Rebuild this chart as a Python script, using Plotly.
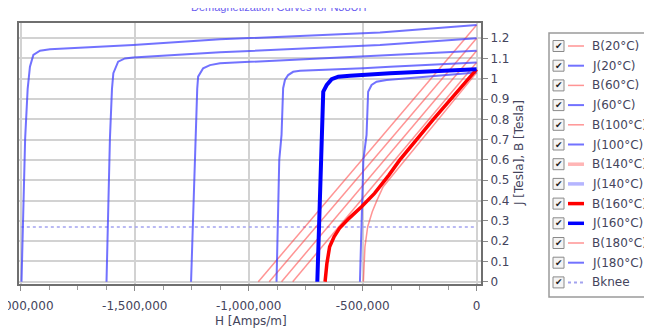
import plotly.graph_objects as go

# ---------------- data ----------------
H_J20 = [-1997000, -1990000, -1981000, -1970000, -1960000, -1945000, -1916000, -1872000, -1507000, -1126000, -424000, 0]
J_J20 = [0, 0.35, 0.706, 0.95, 1.059, 1.117, 1.138, 1.145, 1.166, 1.194, 1.227, 1.265]

H_J60 = [-1624000, -1616000, -1609000, -1600000, -1594000, -1573000, -1543000, -1507000, -1126000, -424000, 0]
J_J60 = [0, 0.35, 0.706, 0.95, 1.027, 1.084, 1.100, 1.105, 1.130, 1.166, 1.199]

H_J100 = [-1253000, -1244000, -1235000, -1226000, -1222000, -1200000, -1170000, -1126000, -995000, -512000, 0]
J_J100 = [0, 0.35, 0.706, 0.95, 1.01, 1.051, 1.067, 1.076, 1.083, 1.108, 1.138]

H_J140 = [-878000, -872000, -866000, -856000, -849000, -841000, -827000, -805000, -775000, -498000, -380000, 0]
J_J140 = [0, 0.3, 0.6, 0.723, 0.953, 0.994, 1.018, 1.034, 1.039, 1.051, 1.059, 1.08]

H_J160 = [-699000, -690000, -680000, -673000, -658000, -636000, -607000, -556000, -380000, 0]
J_J160 = [0, 0.3, 0.6, 0.936, 0.969, 0.998, 1.01, 1.015, 1.027, 1.046]

H_J180 = [-512000, -505000, -497000, -483000, -476000, -461000, -439000, -395000, 0]
J_J180 = [0, 0.3, 0.6, 0.723, 0.936, 0.969, 0.985, 0.994, 1.03]

H_B20 = [-958000, 0]
B_B20 = [0, 1.265]
H_B60 = [-910000, 0]
B_B60 = [0, 1.199]
H_B100 = [-856000, 0]
B_B100 = [0, 1.138]
H_B140 = [-807000, 0]
B_B140 = [0, 1.08]

H_B160 = [-665000, -657000, -645000, -625000, -602000, -560000, -505000, -448000, -385000, -337000, -190000, 0]
B_B160 = [0, 0.09, 0.172, 0.222, 0.263, 0.312, 0.369, 0.435, 0.525, 0.6, 0.8, 1.046]

H_B180 = [-497000, -495000, -490000, -478000, -458000, -437000, -410000, 0]
B_B180 = [0, 0.09, 0.172, 0.271, 0.345, 0.402, 0.468, 1.03]

H_BKNEE = [-2000000, 0]
B_BKNEE = [0.27, 0.27]

X_TICKS = [-2000000, -1500000, -1000000, -500000, 0]
X_TICK_LABELS = ["-2,000,000", "-1,500,000", "-1,000,000", "-500,000", "0"]
Y_TICKS = [0, 0.1, 0.2, 0.3, 0.4, 0.5, 0.6, 0.7, 0.8, 0.9, 1.0, 1.1, 1.2]
Y_TICK_LABELS = ["0", "0.1", "0.2", "0.3", "0.4", "0.5", "0.6", "0.7", "0.8", "0.9", "1", "1.1", "1.2"]

TITLE = "Demagnetization Curves for N38UH"
X_TITLE = "H [Amps/m]"
Y_TITLE = "J [Tesla], B [Tesla]"

# ---------------- styles ----------------
B_THIN = "rgba(255,60,60,0.55)"
J_THIN = "rgba(60,60,255,0.72)"
B_THICK = "#ff0000"
J_THICK = "#0000ff"
KNEE = "#a3a3ef"
TXT = "#44445c"
FONT = "DejaVu Sans"

series = [
    ("B(20°C)", H_B20, B_B20, B_THIN, 1.5, "solid"),
    ("J(20°C)", H_J20, J_J20, J_THIN, 2, "solid"),
    ("B(60°C)", H_B60, B_B60, B_THIN, 1.5, "solid"),
    ("J(60°C)", H_J60, J_J60, J_THIN, 2, "solid"),
    ("B(100°C)", H_B100, B_B100, B_THIN, 1.5, "solid"),
    ("J(100°C)", H_J100, J_J100, J_THIN, 2, "solid"),
    ("B(140°C)", H_B140, B_B140, B_THIN, 1.5, "solid"),
    ("J(140°C)", H_J140, J_J140, J_THIN, 2, "solid"),
    ("B(160°C)", H_B160, B_B160, B_THICK, 3.5, "solid"),
    ("J(160°C)", H_J160, J_J160, J_THICK, 4, "solid"),
    ("B(180°C)", H_B180, B_B180, B_THIN, 1.5, "solid"),
    ("J(180°C)", H_J180, J_J180, J_THIN, 2, "solid"),
    ("Bknee", H_BKNEE, B_BKNEE, KNEE, 1.5, "dot"),
]
legend_sample = {
    "B(140°C)": ("rgba(255,90,90,0.45)", 4),
    "J(140°C)": ("rgba(90,90,255,0.45)", 4),
    "Bknee": (KNEE, 2),
}

fig = go.Figure()
draw_order = [s for s in series if s[0] == "Bknee"] + [s for s in series if s[0] != "Bknee" and "160" not in s[0]] + [s for s in series if "160" in s[0]]
for name, xs, ys, col, w, dash in draw_order:
    fig.add_trace(go.Scatter(x=xs, y=ys, mode="lines", name=name, showlegend=False,
                             line=dict(color=col, width=w, dash=dash)))

# geometry: the page adds an 8px body margin, so the figure is shifted by 8px
OFF = 8
W, Hh = 652 - OFF, 329 - OFF
ML, MT = 19 - OFF, 23 - OFF
MR = W - (481 - OFF)
MB = Hh - (284 - OFF)
PW, PH = W - ML - MR, Hh - MT - MB


def px(x):  # reference page pixel -> paper
    return (x - OFF - ML) / PW


def py(y):
    return (Hh - MB - (y - OFF)) / PH


shapes = []
annotations = []

# legend box
shapes.append(dict(type="rect", xref="paper", yref="paper", x0=px(549), x1=px(664), y0=py(297), y1=py(33),
                   line=dict(color="#9a9a9a", width=1.5), fillcolor="white", layer="above"))
for i, (name, xs, ys, col, w, dash) in enumerate(series):
    yc = 46 + i * 19.7
    scol, sw = legend_sample.get(name, (col, w))
    shapes.append(dict(type="rect", xref="paper", yref="paper", x0=px(553), x1=px(564), y0=py(yc + 5.5), y1=py(yc - 5.5),
                       line=dict(color="#8a8a8a", width=1), fillcolor="#f4f4f4", layer="above"))
    shapes.append(dict(type="line", xref="paper", yref="paper", x0=px(568), x1=px(584), y0=py(yc), y1=py(yc),
                       line=dict(color=scol, width=min(sw, 3.5), dash=dash), layer="above"))
    annotations.append(dict(text="✔", xref="paper", yref="paper", x=px(558.5), y=py(yc), xanchor="center", yanchor="middle",
                            showarrow=False, font=dict(family=FONT, size=9, color="#222222")))
    annotations.append(dict(text=name, xref="paper", yref="paper", x=px(590), y=py(yc), xanchor="left", yanchor="middle",
                            showarrow=False, font=dict(family=FONT, size=12, color=TXT)))

# titles
annotations.append(dict(text=TITLE, xref="paper", yref="paper", x=px(279), y=py(15), xanchor="center", yanchor="bottom",
                        showarrow=False, font=dict(family="Liberation Sans", size=11, color="#6a5cf0")))
annotations.append(dict(text=X_TITLE, xref="paper", yref="paper", x=px(251), y=py(320.5), xanchor="center", yanchor="middle",
                        showarrow=False, font=dict(family=FONT, size=12, color=TXT)))
annotations.append(dict(text=Y_TITLE, xref="paper", yref="paper", x=px(519), y=py(153), xanchor="center", yanchor="middle",
                        textangle=-90, showarrow=False, font=dict(family=FONT, size=12, color=TXT)))

fig.update_layout(
    width=W, height=Hh,
    margin=dict(l=ML, r=MR, t=MT, b=MB, autoexpand=False),
    paper_bgcolor="white", plot_bgcolor="white",
    showlegend=False,
    shapes=shapes, annotations=annotations,
    font=dict(family=FONT, size=12, color=TXT),
)
fig.update_xaxes(
    range=[-2008000, 19200], tickmode="array", tickvals=X_TICKS, ticktext=X_TICK_LABELS,
    ticks="outside", ticklen=5, tickcolor="#8a8a8a", tickwidth=1, ticklabelstandoff=5,
    ticklabeloverflow="allow",
    showgrid=True, gridcolor="#d2d2d2", gridwidth=1.5,
    showline=True, linecolor="#6f6f6f", linewidth=2, mirror=True, zeroline=False,
    tickfont=dict(family=FONT, size=12, color=TXT),
    minor=dict(tickmode="linear", tick0=0, dtick=125000, ticks="outside", ticklen=4, tickcolor="#9a9a9a", showgrid=False),
)
fig.update_yaxes(
    side="right", range=[-0.0113, 1.2744], tickmode="array", tickvals=Y_TICKS, ticktext=Y_TICK_LABELS,
    ticks="outside", ticklen=5, tickcolor="#8a8a8a", tickwidth=1,
    showgrid=True, gridcolor="#d2d2d2", gridwidth=1.5,
    showline=True, linecolor="#6f6f6f", linewidth=2, mirror=True, zeroline=False,
    tickfont=dict(family=FONT, size=12, color=TXT),
)

fig.write_html("out.html")
